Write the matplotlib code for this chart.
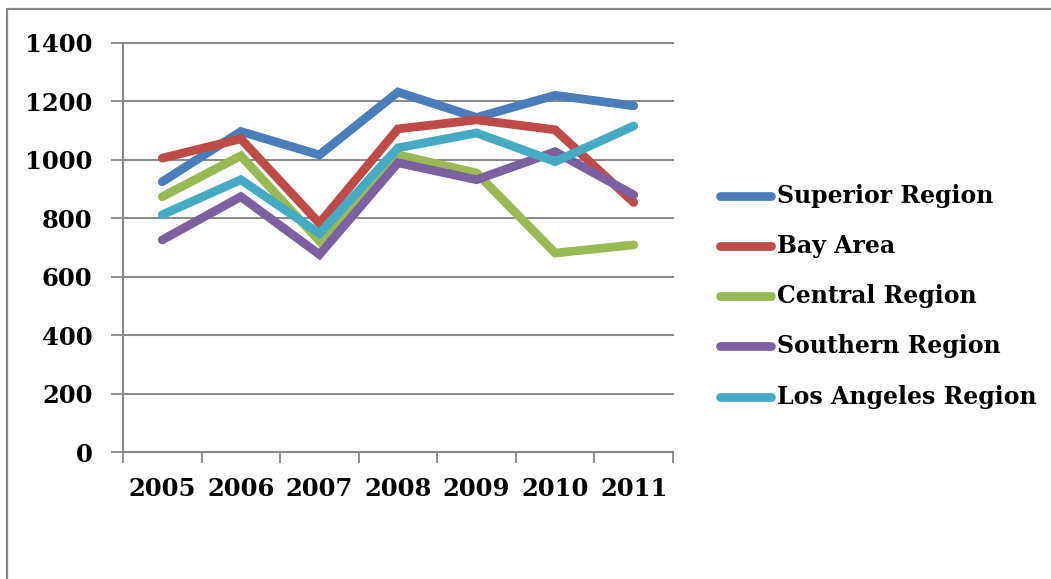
import matplotlib
matplotlib.use("Agg")
import matplotlib.pyplot as plt
from matplotlib.lines import Line2D
import numpy as np

years = ["2005", "2006", "2007", "2008", "2009", "2010", "2011"]
superior = [925, 1097, 1017, 1232, 1145, 1221, 1185]
bay_area = [1006, 1072, 783, 1106, 1137, 1103, 854]
central = [874, 1014, 722, 1017, 955, 681, 709]
southern = [726, 874, 676, 990, 932, 1028, 880]
los_angeles = [812, 932, 748, 1041, 1092, 994, 1116]

series = [
    ("Superior Region", superior, "#4A7EBB"),
    ("Bay Area", bay_area, "#BE4B48"),
    ("Central Region", central, "#98B954"),
    ("Southern Region", southern, "#7D60A0"),
    ("Los Angeles Region", los_angeles, "#46AAC5"),
]

W, H = 1051, 579
fig = plt.figure(figsize=(W / 100, H / 100), dpi=100)
fig.patch.set_facecolor("white")

font = dict(family="DejaVu Serif", weight="bold")
LW = 6.3

ax = fig.add_axes([123 / W, 1 - 452 / H, (673 - 123) / W, (452 - 43) / H])
x = np.arange(len(years)) + 0.5
for name, vals, col in series:
    ax.plot(x, vals, color=col, lw=LW, solid_capstyle="round",
            solid_joinstyle="miter", label=name)

ax.set_xlim(0, len(years))
ax.set_ylim(0, 1400)
ax.set_yticks(np.arange(0, 1401, 200))
ax.set_xticks(np.arange(0, len(years) + 1))
ax.set_xticklabels([])
ax.set_xticks(x, minor=True)
ax.set_xticklabels(years, minor=True, fontsize=17.5, **font)
ax.tick_params(axis="x", which="minor", length=0, pad=18)
ax.tick_params(axis="x", which="major", length=8, width=1.3, color="#888888")
ax.tick_params(axis="y", length=9, width=1.3, color="#888888", pad=13,
               labelsize=17.5)
for lab in ax.get_yticklabels():
    lab.set_fontfamily("DejaVu Serif")
    lab.set_fontweight("bold")
ax.yaxis.grid(True, color="#8c8c8c", lw=1.5)
for gl in ax.get_ygridlines():
    gl.set_clip_on(False)
ax.set_axisbelow(True)
for s in ["top", "right"]:
    ax.spines[s].set_visible(False)
for s in ["left", "bottom"]:
    ax.spines[s].set_color("#888888")
    ax.spines[s].set_linewidth(1.5)

# Legend drawn in figure pixel coordinates
rows = [196, 246, 296, 346, 397]
for (name, vals, col), yy in zip(series, rows):
    yf = 1 - yy / H
    fig.add_artist(Line2D([720 / W, 771 / W], [yf, yf], color=col, lw=LW,
                          solid_capstyle="round", transform=fig.transFigure))
    fig.text(777 / W, yf, name, fontsize=17, va="center", ha="left", **font)

# Outer chart border
fig.add_artist(Line2D([7 / W, 7 / W, 1], [0, 1 - 9 / H, 1 - 9 / H],
                      color="#888888", lw=1.6, transform=fig.transFigure))

fig.savefig("out.png", dpi=100, facecolor="white")
